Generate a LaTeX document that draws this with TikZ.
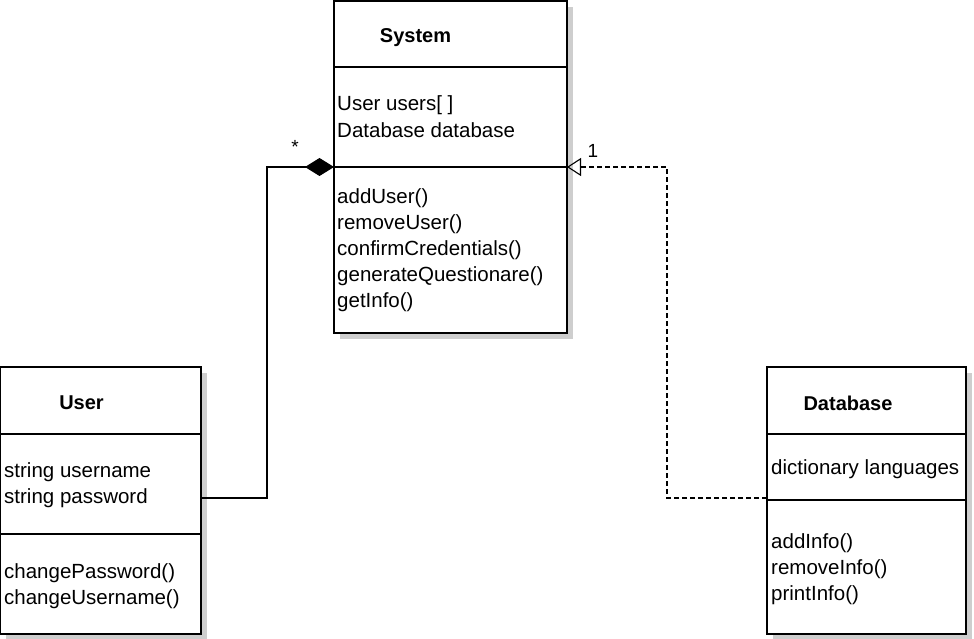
\documentclass[tikz,border=0pt]{standalone}
\usepackage{xcolor}
\usepackage{fontspec}
\setmainfont{Liberation Sans}
\usepackage{tikz}
\usetikzlibrary{arrows.meta, positioning, calc, shadows}
\definecolor{boxshadow}{RGB}{206, 206, 206}
\definecolor{umlline}{RGB}{0, 0, 0}

\tikzset{
    classbox/.style={draw=umlline, line width=1.3pt, fill=white, inner sep=0pt, outer sep=0pt,
        anchor=north west,
        drop shadow={shadow xshift=6pt, shadow yshift=-6pt, fill=boxshadow, opacity=1}},
    classline/.style={draw=umlline, line width=1.3pt},
    classname/.style={font=\fontsize{20}{24}\selectfont\bfseries, inner sep=0pt},
    member/.style={font=\fontsize{20.5}{24}\selectfont, anchor=west, inner sep=0pt,
        text height=15pt, text depth=4pt},
    multiplicity/.style={font=\fontsize{19}{22}\selectfont, inner sep=0pt},
    link/.style={draw=umlline, line width=1.1pt}
}

\begin{document}
\begin{tikzpicture}[x=1pt, y=-1pt]
    \useasboundingbox (0,0) rectangle (974,639);

    % System class
    \node[classbox, minimum width=233pt, minimum height=332pt] (system) at (334,1) {};
    \draw[classline] (334,67) -- (567,67);
    \draw[classline] (334,167) -- (567,167);
    \node[classname] (systitle) at (415.5,38) {System};
    \node[member] (sysattra) at (337,105) {User users[ ]};
    \node[member] (sysattrb) at (337,132) {Database database};
    \node[member] (sysopa) at (337,198) {addUser()};
    \node[member] (sysopb) at (337,224) {removeUser()};
    \node[member] (sysopc) at (337,250) {confirmCredentials()};
    \node[member] (sysopd) at (337,276) {generateQuestionare()};
    \node[member] (sysope) at (337,302) {getInfo()};

    % User class
    \node[classbox, minimum width=201pt, minimum height=267pt] (user) at (0,367) {};
    \draw[classline] (0,434) -- (201,434);
    \draw[classline] (0,534) -- (201,534);
    \node[classname] (usertitle) at (81.5,403) {User};
    \node[member] (userattra) at (4,472) {string username};
    \node[member] (userattrb) at (4,498) {string password};
    \node[member] (useropa) at (4,573) {changePassword()};
    \node[member] (useropb) at (4,599) {changeUsername()};

    % Database class
    \node[classbox, minimum width=199pt, minimum height=267pt] (database) at (767,367) {};
    \draw[classline] (767,434) -- (966,434);
    \draw[classline] (767,500) -- (966,500);
    \node[classname] (dbtitle) at (848,403) {Database};
    \node[member] (dbattra) at (771,469) {dictionary languages};
    \node[member] (dbopa) at (771,543) {addInfo()};
    \node[member] (dbopb) at (771,569) {removeInfo()};
    \node[member] (dbopc) at (771,595) {printInfo()};

    % Link ends
    \coordinate (userend) at (user.east |- 0,498);
    \coordinate (sysleft) at (system.west |- 0,167);
    \coordinate (dbend) at (database.west |- 0,498);
    \coordinate (sysright) at (system.east |- 0,167);

    % Composition User -> System
    \draw[link, -{Diamond[length=29pt, width=18pt]}] (userend) -- ++(66,0) |- (sysleft);
    \node[multiplicity] (starmult) at (295,147) {*};

    % Dashed link Database -> System
    \draw[link, dash pattern=on 5pt off 3pt, -{Triangle[open, length=14pt, width=18pt, line width=1.1pt]}]
        (dbend) -- ++(-100,0) |- (sysright);
    \node[multiplicity] (onemult) at (593,151) {1};
\end{tikzpicture}
\end{document}
